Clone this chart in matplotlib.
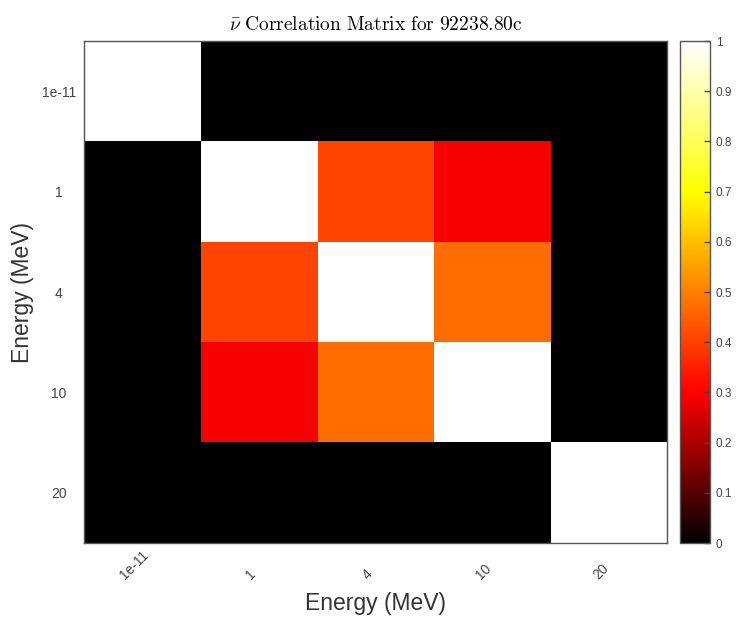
import numpy as np
import matplotlib
matplotlib.use("Agg")
from matplotlib import pyplot as plt
from matplotlib.colors import LinearSegmentedColormap

plt.rcParams['font.family'] = ['Liberation Sans', 'DejaVu Sans']
plt.rcParams['mathtext.fontset'] = 'cm'

energies = ["1e-11", "1", "4", "10", "20"]
corr = [
    [1.00, 0.00, 0.00, 0.00, 0.00],
    [0.00, 1.00, 0.41, 0.29, 0.00],
    [0.00, 0.41, 1.00, 0.47, 0.00],
    [0.00, 0.29, 0.47, 1.00, 0.00],
    [0.00, 0.00, 0.00, 0.00, 1.00],
]
cbar_ticks = [0, 0.1, 0.2, 0.3, 0.4, 0.5, 0.6, 0.7, 0.8, 0.9, 1]

cmap = LinearSegmentedColormap.from_list(
    "heat", [(0.0, "#000000"), (0.3, "#ff0000"), (0.7, "#ffff00"), (1.0, "#ffffff")])

fig = plt.figure(figsize=(7.38, 6.17), dpi=100)
ax = fig.add_axes([0.1138, 0.1199, 0.7900, 0.8136])
cax = fig.add_axes([0.9214, 0.1199, 0.0407, 0.8136])

im = ax.imshow(np.array(corr), cmap=cmap, vmin=0, vmax=1,
               aspect='auto', interpolation='nearest')

tick_grey = "#444444"
ax.set_yticks(range(len(energies)))
ax.set_yticklabels(energies, fontsize=10, color=tick_grey, ha='center')
ax.set_xticks([i - 0.07 for i in range(len(energies))])
ax.set_xticklabels(energies, fontsize=10, color=tick_grey, rotation=45,
                   ha='center', va='bottom')
ax.tick_params(axis='y', length=0, pad=18)
ax.tick_params(axis='x', length=0, pad=28)
ax.set_xlim(-0.5, 4.5)
ax.set_ylim(4.5, -0.5)

ax.set_xlabel("Energy (MeV)", fontsize=16.5, color="#333333", labelpad=7)
ax.set_ylabel("Energy (MeV)", fontsize=16.5, color="#333333", labelpad=6)
ax.set_title(r"$\bar{\nu}\ \mathrm{Correlation\ Matrix\ for\ 92238.80c}$",
             fontsize=14, pad=8)
for s in ax.spines.values():
    s.set_color("#555555")
    s.set_linewidth(1.0)

cb = fig.colorbar(im, cax=cax, ticks=cbar_ticks)
cb.ax.set_yticklabels([f"{t:g}" for t in cbar_ticks])
cb.ax.tick_params(direction='in', length=4, width=1, color="#444444",
                  labelsize=8.5, labelcolor=tick_grey, pad=4)
cb.outline.set_edgecolor("#555555")
cb.outline.set_linewidth(1.0)

fig.savefig("out.png", dpi=100)
